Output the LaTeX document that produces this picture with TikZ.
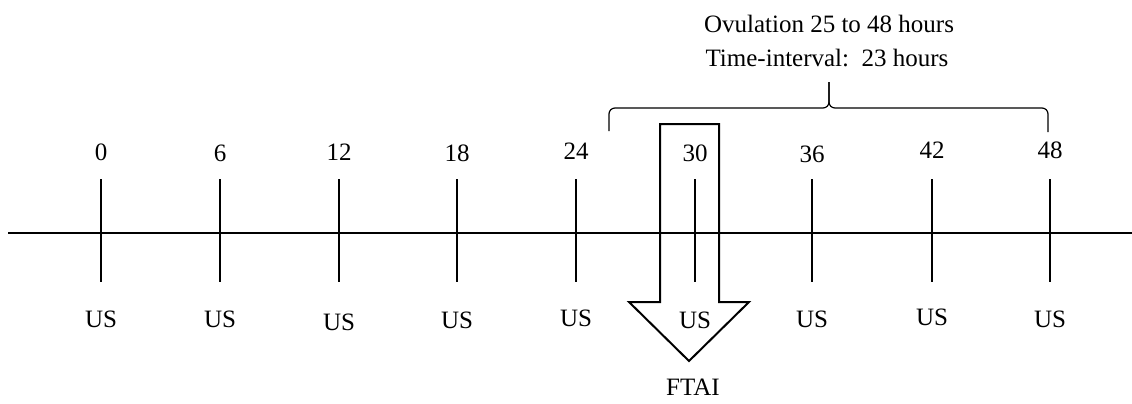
\documentclass[tikz,border=0pt]{standalone}
\usepackage{fontspec}
\setmainfont{Liberation Serif}
\usepackage{tikz}

\begin{document}
\begin{tikzpicture}[x=0.5pt, y=-0.5pt, line width=1pt,
	every node/.style={font=\fontsize{12.5}{15}\selectfont, inner sep=0pt, anchor=base}]
	\useasboundingbox (0,0) rectangle (1132,403);

	% time axis
	\coordinate (axis start) at (8,233);
	\coordinate (axis end) at (1132,233);
	\draw (axis start) -- (axis end);

	% hours above, ultrasound below
	\foreach \x/\h/\hy/\uy in {101/0/160/327, 220/6/161/327, 339/12/160/330, 457/18/161/328, 576/24/159/326, 695/30/161/328, 812/36/162/327, 932/42/158/325, 1050/48/158/327}{
		\node (h\h) at (\x,\hy) {\h};
		\node (us\h) at (\x,\uy) {US};
		\coordinate (top\h) at (\x,179);
		\coordinate (bot\h) at (\x,282);
		\draw (top\h) -- (bot\h);
	}

	% block arrow
	\draw (660,124) -- (719,124) -- (719,302) -- (749,302) -- (689,361) -- (629,302) -- (660,302) -- cycle;
	\node (ftai) at (693,395) {FTAI};

	% brace over the ovulation window
	\coordinate (brace left) at (609,131);
	\coordinate (brace right) at (1048,132);
	\coordinate (brace mid) at (829,108);
	\coordinate (brace tip) at (829,82);
	\draw[line width=0.6pt, rounded corners=3pt] (brace left) |- (brace mid) -- (brace tip);
	\draw[line width=0.6pt, rounded corners=3pt] (brace right) |- (brace mid) -- (brace tip);

	\node (ovulation) at (829,32) {Ovulation 25 to 48 hours};
	\node (interval) at (827,66) {Time-interval:\ \ 23 hours};
\end{tikzpicture}
\end{document}
